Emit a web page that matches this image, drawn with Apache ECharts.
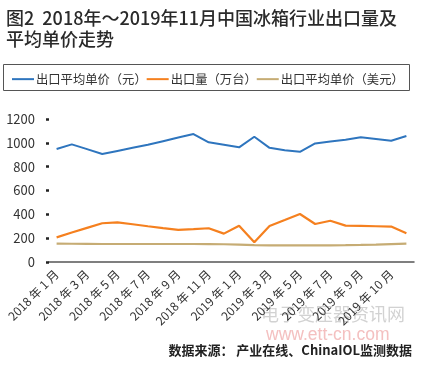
<!DOCTYPE html>
<html>
<head>
<meta charset="utf-8">
<script src="https://cdn.jsdelivr.net/npm/echarts@6/dist/echarts.min.js"></script>
<style>
html,body{margin:0;padding:0;background:#fff;}
#c{width:425px;height:365px;}
</style>
</head>
<body>
<div id="c"></div>
<script>
var categories = [
  "2018年1月","2018年2月","2018年3月","2018年4月","2018年5月","2018年6月",
  "2018年7月","2018年8月","2018年9月","2018年10月","2018年11月","2018年12月",
  "2019年1月","2019年2月","2019年3月","2019年4月","2019年5月","2019年6月",
  "2019年7月","2019年8月","2019年9月","2019年9月","2019年10月","2019年11月"
];
var priceCNY = [948, 987, 947, 906, 932, 958, 984, 1014, 1044, 1074, 1004, 983,
                962, 1051, 958, 938, 925, 995, 1012, 1026, 1046, 1032, 1018, 1057];
var volume   = [207, 247, 286, 325, 333, 317, 300, 284, 270, 276, 283, 238,
                305, 165, 302, 352, 403, 319, 346, 305, 303, 300, 297, 241];
var priceUSD = [155, 153, 152, 151, 151, 151, 151, 151, 151, 151, 150, 149,
                146, 141, 139, 139, 139, 139, 140, 141, 143, 146, 150, 154];
var seriesNames = ["出口平均单价（元）", "出口量（万台）", "出口平均单价（美元）"];
var yTicks = [0, 200, 400, 600, 800, 1000, 1200];

var chart = echarts.init(document.getElementById('c'), null, {renderer: 'canvas'});
var font = '"Noto Sans CJK SC", "Noto Sans", sans-serif';
chart.setOption({
  animation: false,
  backgroundColor: '#fff',
  title: {
    text: '图2  2018年～2019年11月中国冰箱行业出口量及\n平均单价走势',
    left: 1, top: 3,
    textStyle: {fontFamily: font, fontSize: 18, fontWeight: 500, color: '#2a2a2a', lineHeight: 21}
  },
  legend: {
    left: 7, top: 68,
    itemWidth: 22, itemHeight: 2, itemGap: 0,
    icon: 'rect',
    textStyle: {fontFamily: font, fontSize: 12.3, color: '#333', padding: [0, 0, 0, -3]},
    data: seriesNames
  },
  grid: {left: 49, right: 11, top: 119, bottom: 103, containLabel: false},
  xAxis: {
    type: 'category',
    data: categories,
    boundaryGap: true,
    axisLine: {show: true, lineStyle: {color: '#555', width: 1.5}},
    axisTick: {show: false},
    axisLabel: {
      interval: 1, rotate: 45, margin: 10,
      fontFamily: font, fontSize: 12, color: '#333',
      formatter: function (v) { return v.replace('年', ' 年 ').replace(/(\d+)月/, '$1 月'); }
    },
    splitLine: {show: false}
  },
  yAxis: {
    type: 'value',
    min: yTicks[0], max: yTicks[yTicks.length - 1], interval: 200,
    axisLine: {show: false},
    axisTick: {show: true, length: 3, lineStyle: {color: '#222', width: 2.5}},
    axisLabel: {fontFamily: font, fontSize: 13, color: '#333', margin: 14,
      formatter: function (v) { return String(v); }},
    splitLine: {show: false}
  },
  series: [
    {name: seriesNames[0], type: 'line', data: priceCNY, symbol: 'none', lineStyle: {width: 2, color: '#2E75BE'}, itemStyle: {color: '#2E75BE'}},
    {name: seriesNames[1], type: 'line', data: volume, symbol: 'none', lineStyle: {width: 2.2, color: '#F5801F'}, itemStyle: {color: '#F5801F'}},
    {name: seriesNames[2], type: 'line', data: priceUSD, symbol: 'none', lineStyle: {width: 2.2, color: '#C6AC74'}, itemStyle: {color: '#C6AC74'}}
  ],
  graphic: [
    {type: 'rect', shape: {x: 3.5, y: 64.5, width: 406, height: 26}, style: {fill: 'none', stroke: '#555', lineWidth: 1}, silent: true},
    {type: 'text', left: 261, top: 305, style: {text: '电子变压器资讯网', fontFamily: font, fontSize: 18, fill: '#d2d2d2'}, silent: true},
    {type: 'text', left: 266, top: 326, style: {text: 'www.ett-cn.com', fontFamily: '"Liberation Sans", sans-serif', fontSize: 17.5, fill: '#f4c0c0'}, silent: true},
    {type: 'text', right: 13, top: 344, style: {text: '数据来源： 产业在线、ChinaIOL监测数据', fontFamily: font, fontSize: 13, fontWeight: 'bold', fill: '#222'}, silent: true}
  ]
});
</script>
</body>
</html>
